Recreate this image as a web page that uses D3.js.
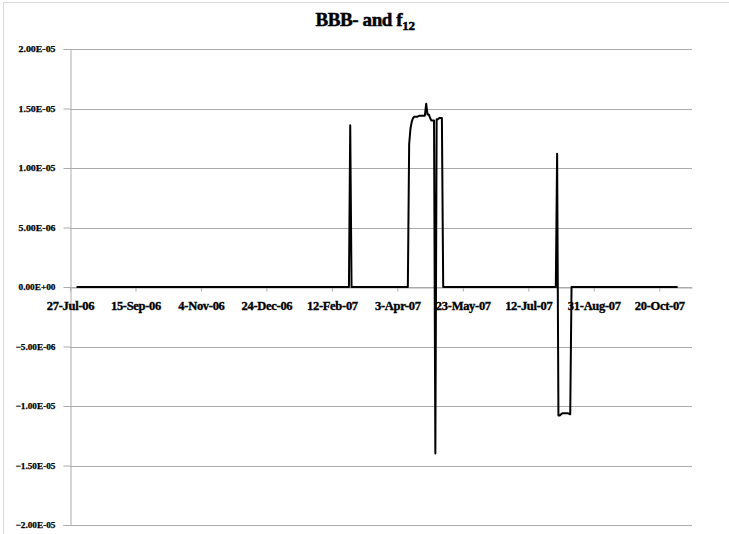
<!DOCTYPE html>
<html>
<head>
<meta charset="utf-8">
<script src="https://cdn.jsdelivr.net/npm/d3@7"></script>
<style>
    body { margin: 0; background: #fff; }
    text { font-family: "Liberation Serif", "Times New Roman", serif; font-weight: bold; fill: #000; stroke: #000; stroke-width: 0.35px; }
</style>
</head>
<body>
<script>
//series dates (daily points where the series changes)
var dates = ["1-Aug-06", "25-Feb-07", "26-Feb-07", "27-Feb-07",
    "11-Apr-07", "12-Apr-07", "13-Apr-07", "14-Apr-07", "15-Apr-07", "16-Apr-07", "18-Apr-07",
    "20-Apr-07", "22-Apr-07", "24-Apr-07", "25-Apr-07", "26-Apr-07", "27-Apr-07", "28-Apr-07",
    "29-Apr-07", "30-Apr-07", "1-May-07", "2-May-07", "3-May-07", "4-May-07", "5-May-07",
    "6-May-07", "7-May-07", "8-May-07",
    "2-Aug-07", "3-Aug-07", "4-Aug-07", "5-Aug-07", "6-Aug-07", "7-Aug-07", "9-Aug-07",
    "11-Aug-07", "13-Aug-07", "14-Aug-07", "3-Nov-07"];

//series values (BBB- and f12)
var values = [0, 0, 1.36e-5, 0,
    0, 1.20e-5, 1.33e-5, 1.39e-5, 1.42e-5, 1.43e-5, 1.43e-5,
    1.44e-5, 1.44e-5, 1.44e-5, 1.54e-5, 1.45e-5, 1.45e-5, 1.42e-5,
    1.40e-5, 1.40e-5, 1.40e-5, -1.40e-5, 1.41e-5, 1.41e-5, 1.42e-5,
    1.42e-5, 1.42e-5, 0,
    0, 1.12e-5, -1.08e-5, -1.08e-5, -1.07e-5, -1.06e-5, -1.06e-5,
    -1.06e-5, -1.07e-5, 0, 0];

//axis tick labels
var xTickLabels = ["27-Jul-06", "15-Sep-06", "4-Nov-06", "24-Dec-06", "12-Feb-07",
    "3-Apr-07", "23-May-07", "12-Jul-07", "31-Aug-07", "20-Oct-07"];
var yTicks = [2e-5, 1.5e-5, 1e-5, 5e-6, 0, -5e-6, -1e-5, -1.5e-5, -2e-5];

window.onload = function(){
    var w = 729, h = 534;
    var parseDate = d3.utcParse("%d-%b-%y");
    var formatDate = d3.utcFormat("%-d-%b-%y");

    var series = dates.map(function(d, i){
        return { date: parseDate(d), value: values[i] };
    });

    var svg = d3.select("body")
        .append("svg")
        .attr("width", w)
        .attr("height", h);

    //chart area border
    svg.append("rect")
        .attr("x", 3.5)
        .attr("y", 2.5)
        .attr("width", w + 10)
        .attr("height", h + 10)
        .style("fill", "none")
        .style("stroke", "#b4b4b4")
        .style("stroke-dasharray", "1,1");

    //scales
    var x = d3.scaleUtc()
        .domain([parseDate("27-Jul-06"), parseDate("14-Nov-07")])
        .range([70, 692]);

    var y = d3.scaleLinear()
        .domain([-2e-5, 2e-5])
        .range([525, 49]);

    //excel style scientific format, e.g. 2.00E-05
    var sci = function(v){
        if (v === 0) return "0.00E+00";
        var s = d3.format(".2e")(v).split("e");
        var exp = +s[1];
        return s[0] + "E" + (exp < 0 ? "-" : "+") + d3.format("02")(Math.abs(exp));
    };

    //horizontal gridlines
    svg.append("g")
        .attr("class", "grid")
        .selectAll("line")
        .data(yTicks)
        .enter()
        .append("line")
        .attr("x1", x.range()[0])
        .attr("x2", x.range()[1])
        .attr("y1", function(d){ return Math.round(y(d)) + 0.5; })
        .attr("y2", function(d){ return Math.round(y(d)) + 0.5; })
        .style("stroke", "#ababab")
        .style("stroke-width", 1);

    //y axis
    var yAxis = d3.axisLeft(y)
        .tickValues(yTicks)
        .tickSize(7)
        .tickPadding(8)
        .tickFormat(sci);

    var gy = svg.append("g")
        .attr("class", "axis")
        .attr("transform", "translate(70.5, 0)")
        .call(yAxis);
    gy.selectAll("path, line").style("stroke", "#ababab");
    gy.selectAll("text")
        .style("font-size", "9px")
        .style("font-family", "'Liberation Serif', serif")
        .style("font-weight", "bold")
        .style("stroke-width", "0.25px")
        .attr("textLength", function(d){ return d < 0 ? 40 : 37; })
        .attr("lengthAdjust", "spacingAndGlyphs");

    //x axis along zero
    var xAxis = d3.axisBottom(x)
        .tickValues(xTickLabels.map(parseDate))
        .tickSize(4)
        .tickSizeOuter(0)
        .tickPadding(10)
        .tickFormat(formatDate);

    var gx = svg.append("g")
        .attr("class", "axis")
        .attr("transform", "translate(0," + (Math.round(y(0)) + 0.5) + ")")
        .call(xAxis);
    gx.selectAll("path, line").style("stroke", "#ababab");
    gx.selectAll("text")
        .style("font-size", "12.5px")
        .style("font-family", "'Liberation Serif', serif")
        .style("font-weight", "bold")
        .style("letter-spacing", "-0.3px");

    //series line
    var line = d3.line()
        .x(function(d){ return x(d.date); })
        .y(function(d){ return y(d.value); });

    svg.append("path")
        .datum(series)
        .attr("class", "series")
        .attr("d", line)
        .style("fill", "none")
        .style("stroke", "#000")
        .style("stroke-width", 2)
        .style("stroke-linejoin", "round");

    //title with subscript
    var title = svg.append("text")
        .attr("class", "title")
        .attr("text-anchor", "middle")
        .attr("x", 365)
        .attr("y", 26)
        .style("font-size", "19px")
        .style("stroke-width", "0.5px")
        .style("letter-spacing", "-0.4px");
    title.append("tspan").text("BBB- and f");
    title.append("tspan")
        .attr("dy", 4)
        .style("font-size", "13px")
        .text("12");
};
</script>
</body>
</html>
